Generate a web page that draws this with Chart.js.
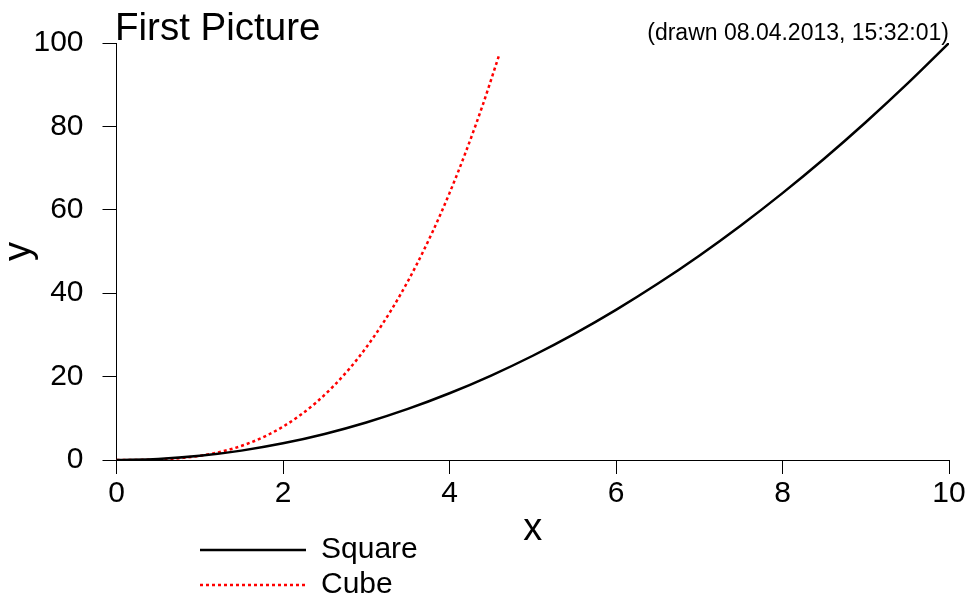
<!DOCTYPE html>
<html>
<head>
<meta charset="utf-8">
<script src="https://cdn.jsdelivr.net/npm/chart.js@4"></script>
<style>
  body { margin: 0; background: #fff; }
  #wrap { width: 969px; height: 600px; }
</style>
</head>
<body>
<div id="wrap"><canvas id="grafico" width="969" height="600"></canvas></div>
<script>
const titulo = "First Picture";
const carimbo = "(drawn 08.04.2013, 15:32:01)";
const nomes = ["Square", "Cube"];

const xSquare = [0, 0.5, 1, 1.5, 2, 2.5, 3, 3.5, 4, 4.5, 5, 5.5, 6, 6.5, 7, 7.5, 8, 8.5, 9, 9.5, 10];
const ySquare = [0, 0.25, 1, 2.25, 4, 6.25, 9, 12.25, 16, 20.25, 25, 30.25, 36, 42.25, 49, 56.25, 64, 72.25, 81, 90.25, 100];

const xCube = [0, 0.2, 0.4, 0.6, 0.8, 1, 1.2, 1.4, 1.6, 1.8, 2, 2.2, 2.4, 2.6, 2.8, 3, 3.2, 3.4, 3.6, 3.8, 4, 4.2, 4.4, 4.6];
const yCube = [0, 0.01, 0.06, 0.22, 0.51, 1, 1.73, 2.74, 4.1, 5.83, 8, 10.65, 13.82, 17.58, 21.95, 27, 32.77, 39.3, 46.66, 54.87, 64, 74.09, 85.18, 97.34];

const xTicks = [0, 2, 4, 6, 8, 10];
const yTicks = [0, 20, 40, 60, 80, 100];

const fonte = "'Liberation Sans', Arial, Helvetica, sans-serif";
Chart.defaults.font.family = fonte;
Chart.defaults.color = '#000';

function pontos(xs, ys) {
    return xs.map((x, i) => ({ x: x, y: ys[i] }));
}

// legenda empilhada embaixo do gráfico, à esquerda
const posLegenda = {
    id: 'posLegenda',
    afterLayout(chart) {
        const lg = chart.legend;
        lg.left = 195;
        lg.top = 530;
        lg.right = lg.left + lg.width;
        lg.bottom = lg.top + lg.height;
    }
};

const textos = {
    id: 'textos',
    afterDraw(chart) {
        const ctx = chart.ctx;
        ctx.save();
        ctx.fillStyle = '#000';
        ctx.textBaseline = 'alphabetic';
        ctx.textAlign = 'left';
        ctx.font = '38.5px ' + fonte;
        ctx.fillText(titulo, 115, 40);
        ctx.textAlign = 'right';
        ctx.font = '23px ' + fonte;
        ctx.fillText(carimbo, 949, 40);
        ctx.restore();
    }
};

const eixo = {
    border: { display: true, color: '#000', width: 1 },
    grid: { display: true, drawOnChartArea: false, drawTicks: true, tickLength: 14, color: '#000', lineWidth: 1 }
};

new Chart(document.getElementById('grafico').getContext('2d'), {
    type: 'line',
    data: {
        datasets: [{
            label: nomes[0],
            data: pontos(xSquare, ySquare),
            borderColor: '#000',
            backgroundColor: '#000',
            borderWidth: 2.5,
            pointRadius: 0,
            cubicInterpolationMode: 'monotone',
            fill: false
        }, {
            label: nomes[1],
            data: pontos(xCube, yCube),
            borderColor: '#ff0000',
            backgroundColor: '#ff0000',
            borderWidth: 2.5,
            borderDash: [3, 3],
            pointRadius: 0,
            cubicInterpolationMode: 'monotone',
            fill: false
        }]
    },
    options: {
        responsive: false,
        animation: false,
        layout: { padding: { top: 43, right: 20, left: 0, bottom: 0 } },
        scales: {
            x: {
                type: 'linear',
                min: 0,
                max: 10,
                ...eixo,
                afterBuildTicks(scale) { scale.ticks = xTicks.map(v => ({ value: v })); },
                afterFit(scale) { scale.height = 140; },
                ticks: { font: { size: 30 }, padding: 2, maxRotation: 0, autoSkip: false },
                title: { display: true, text: 'x', font: { size: 38, lineHeight: 1 }, padding: { top: 0, bottom: 51 } }
            },
            y: {
                type: 'linear',
                min: 0,
                max: 100,
                ...eixo,
                afterBuildTicks(scale) { scale.ticks = yTicks.map(v => ({ value: v })); },
                afterFit(scale) { scale.width = 116.5; },
                ticks: { font: { size: 30 }, padding: 19 },
                title: { display: true, text: 'y', font: { size: 38, lineHeight: 1 }, padding: { top: 1, bottom: 0 } }
            }
        },
        plugins: {
            legend: {
                position: 'chartArea',
                align: 'start',
                labels: {
                    usePointStyle: true,
                    pointStyle: 'line',
                    pointStyleWidth: 106,
                    padding: 5,
                    font: { size: 30 },
                    color: '#000',
                    generateLabels(chart) {
                        const itens = Chart.defaults.plugins.legend.labels.generateLabels(chart);
                        itens.forEach(item => {
                            const ds = chart.data.datasets[item.datasetIndex];
                            item.strokeStyle = ds.borderColor;
                            item.lineWidth = ds.borderWidth;
                            item.lineDash = ds.borderDash || [];
                        });
                        return itens;
                    }
                }
            },
            tooltip: { enabled: false }
        }
    },
    plugins: [posLegenda, textos]
});
</script>
</body>
</html>
